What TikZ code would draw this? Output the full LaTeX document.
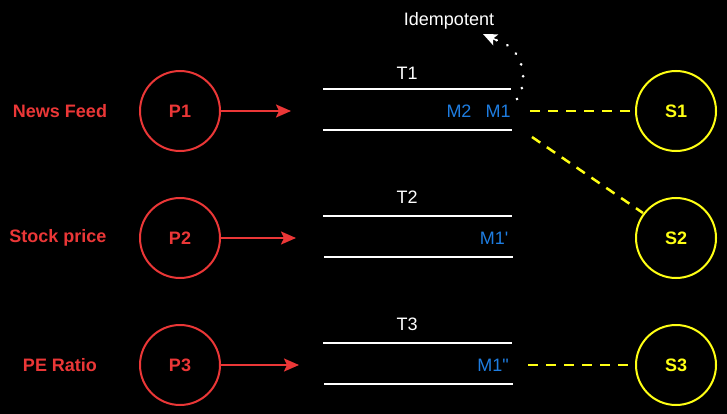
\documentclass[tikz,border=0pt]{standalone}
\usepackage{fontspec}
\setmainfont{Liberation Sans}
\newfontfamily\plainfont{Liberation Sans}
\usetikzlibrary{arrows.meta}
\definecolor{pred}{RGB}{235,55,55}
\definecolor{syel}{RGB}{255,255,20}
\definecolor{mblue}{RGB}{30,125,225}
\tikzset{
  prod/.style={circle,draw=pred,line width=2pt,minimum size=80pt,inner sep=0pt,text=pred,font=\fontsize{18}{20}\selectfont\bfseries},
  cons/.style={circle,draw=syel,line width=2pt,minimum size=80pt,inner sep=0pt,text=syel,font=\fontsize{18}{20}\selectfont\bfseries},
  src/.style={text=pred,font=\fontsize{18}{20}\selectfont\bfseries},
  tlabel/.style={text=white,font=\fontsize{18}{20}\selectfont},
  msg/.style={text=mblue,font=\plainfont\fontsize{18}{20}\selectfont,inner sep=0pt},
  topicline/.style={draw=white,line width=2.5pt},
  parrow/.style={draw=pred,line width=2pt,-{Stealth[length=15pt,width=13pt,inset=3pt]}},
  ydash/.style={draw=syel,line width=2.5pt,dash pattern=on 10pt off 8pt},
}
\begin{document}
\begin{tikzpicture}[x=1pt,y=-1pt]
\fill[black] (0,0) rectangle (727,414);
\useasboundingbox (0,0) rectangle (727,414);

% sources
\node[src] (nf) at (60,111) {News Feed};
\node[src] (sp) at (58,238) {Stock price};
\node[src] (pe) at (60,365) {PE Ratio};

% producers
\node[prod] (p1) at (180,111) {P1};
\node[prod] (p2) at (180,238) {P2};
\node[prod] (p3) at (180,365) {P3};

\coordinate (a1) at (291,111);
\coordinate (a2) at (296,238);
\coordinate (a3) at (299,365);
\draw[parrow] (p1) -- (a1);
\draw[parrow] (p2) -- (a2);
\draw[parrow] (p3) -- (a3);

% topics
\draw[topicline] (323,89) -- (511,89);
\draw[topicline] (323,130) -- (512,130);
\draw[topicline] (323,216) -- (512,216);
\draw[topicline] (324,257) -- (513,257);
\draw[topicline] (323,343) -- (512,343);
\draw[topicline] (324,384) -- (513,384);

\node[tlabel] (t1) at (407,73) {T1};
\node[tlabel] (t2) at (407,197) {T2};
\node[tlabel] (t3) at (407,324) {T3};

\node[msg] (m2) at (459,111) {M2};
\node[msg] (m1) at (498,111) {M1};
\node[msg] (m1p) at (494,238) {M1'};
\node[msg] (m1pp) at (493,365) {M1"};

% consumers
\node[cons] (s1) at (676,111) {S1};
\node[cons] (s2) at (676,238) {S2};
\node[cons] (s3) at (676,365) {S3};

\coordinate (d1) at (530,111);
\coordinate (d2) at (532,137);
\coordinate (d3) at (528,365);
\draw[ydash] (d1) -- (s1.west);
\draw[ydash] (d2) -- (643,213);
\draw[ydash] (d3) -- (629,365);

% idempotent
\node[tlabel] (idem) at (449,21) {Idempotent};
\coordinate (i0) at (517,99);
\coordinate (i1) at (483,34);
\draw[white,line width=3pt,line cap=round,dash pattern=on 0.01pt off 12pt]
  (i0) .. controls (528,84) and (526,48) .. (496,40);
\draw[white,line width=1.5pt,-{Stealth[length=14pt,width=12pt,inset=3pt]}] (496,40) -- (i1);
\end{tikzpicture}
\end{document}
